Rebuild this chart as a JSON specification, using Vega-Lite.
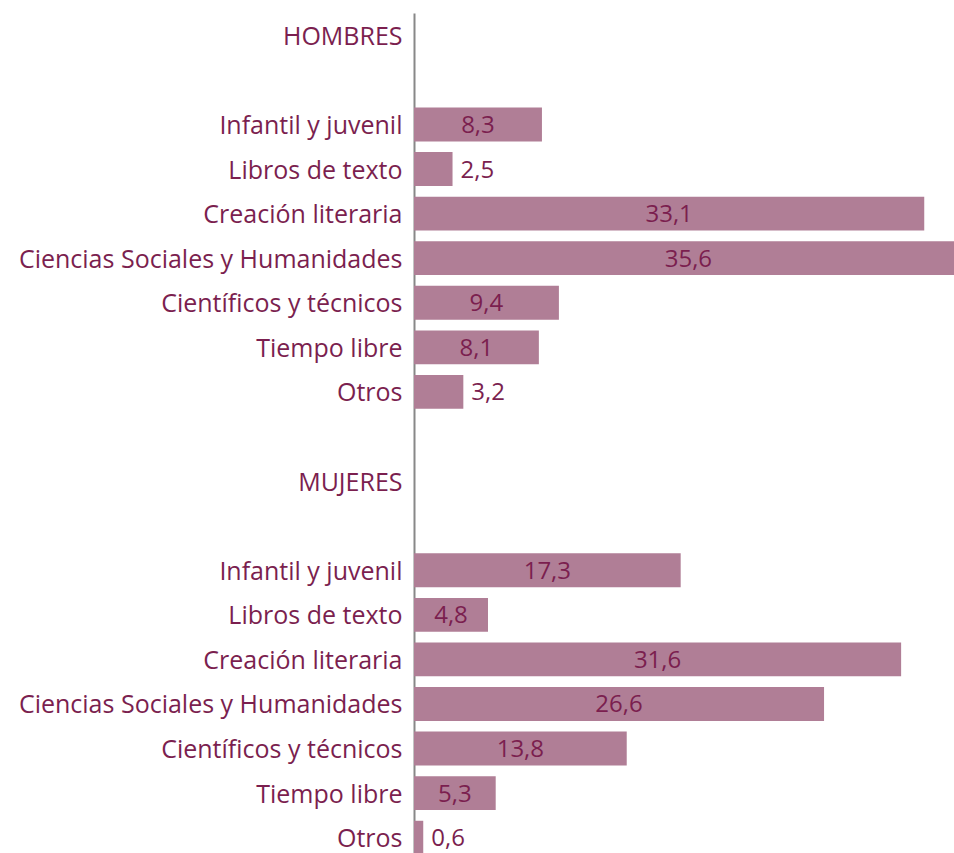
{
  "$schema": "https://vega.github.io/schema/vega-lite/v6.json",
  "width": 540,
  "height": 847,
  "autosize": {"type": "none"},
  "padding": {"left": 414, "top": 13, "right": 0, "bottom": 0},
  "background": "white",
  "config": {
    "view": {"stroke": null},
    "font": "Open Sans"
  },
  "data": {
    "values": [
      {"id": "Infantil y juvenil|H", "grupo": "HOMBRES", "v": 8.3},
      {"id": "Libros de texto|H", "grupo": "HOMBRES", "v": 2.5},
      {"id": "Creación literaria|H", "grupo": "HOMBRES", "v": 33.1},
      {"id": "Ciencias Sociales y Humanidades|H", "grupo": "HOMBRES", "v": 35.6},
      {"id": "Científicos y técnicos|H", "grupo": "HOMBRES", "v": 9.4},
      {"id": "Tiempo libre|H", "grupo": "HOMBRES", "v": 8.1},
      {"id": "Otros|H", "grupo": "HOMBRES", "v": 3.2},
      {"id": "Infantil y juvenil|M", "grupo": "MUJERES", "v": 17.3},
      {"id": "Libros de texto|M", "grupo": "MUJERES", "v": 4.8},
      {"id": "Creación literaria|M", "grupo": "MUJERES", "v": 31.6},
      {"id": "Ciencias Sociales y Humanidades|M", "grupo": "MUJERES", "v": 26.6},
      {"id": "Científicos y técnicos|M", "grupo": "MUJERES", "v": 13.8},
      {"id": "Tiempo libre|M", "grupo": "MUJERES", "v": 5.3},
      {"id": "Otros|M", "grupo": "MUJERES", "v": 0.6}
    ]
  },
  "transform": [
    {"calculate": "datum.v / 2", "as": "mid"},
    {"calculate": "replace(format(datum.v, '.1f'), '.', ',')", "as": "etiqueta"}
  ],
  "encoding": {
    "y": {
      "field": "id",
      "type": "nominal",
      "scale": {
        "domain": [
          "HOMBRES", "|b1",
          "Infantil y juvenil|H", "Libros de texto|H", "Creación literaria|H", "Ciencias Sociales y Humanidades|H", "Científicos y técnicos|H", "Tiempo libre|H", "Otros|H",
          "|b2", "MUJERES", "|b3",
          "Infantil y juvenil|M", "Libros de texto|M", "Creación literaria|M", "Ciencias Sociales y Humanidades|M", "Científicos y técnicos|M", "Tiempo libre|M", "Otros|M"
        ],
        "paddingInner": 0.24,
        "paddingOuter": 0.12
      },
      "axis": {
        "title": null,
        "ticks": false,
        "labelExpr": "split(datum.label, '|')[0]",
        "labelFontSize": 25,
        "labelFontWeight": 400,
        "labelColor": "#7b1f4f",
        "labelPadding": 12,
        "labelOffset": 1.5,
        "labelLimit": 500,
        "domainColor": "#888888",
        "domainWidth": 2,
        "grid": false
      }
    }
  },
  "layer": [
    {
      "mark": {"type": "bar", "color": "#b07e96", "clip": true},
      "encoding": {
        "x": {
          "field": "v",
          "type": "quantitative",
          "scale": {"domain": [0, 35.03], "nice": false, "zero": true},
          "axis": null
        }
      }
    },
    {
      "transform": [{"filter": "datum.v >= 4"}],
      "mark": {"type": "text", "align": "center", "baseline": "middle", "dy": 1.5, "fontSize": 24, "fontWeight": 400, "color": "#7b1f4f"},
      "encoding": {
        "x": {"field": "mid", "type": "quantitative", "scale": {"domain": [0, 35.03], "nice": false}},
        "text": {"field": "etiqueta"}
      }
    },
    {
      "transform": [{"filter": "datum.v < 4"}],
      "mark": {"type": "text", "align": "left", "baseline": "middle", "dx": 8, "dy": 1.5, "fontSize": 24, "fontWeight": 400, "color": "#7b1f4f"},
      "encoding": {
        "x": {"field": "v", "type": "quantitative", "scale": {"domain": [0, 35.03], "nice": false}},
        "text": {"field": "etiqueta"}
      }
    }
  ]
}
